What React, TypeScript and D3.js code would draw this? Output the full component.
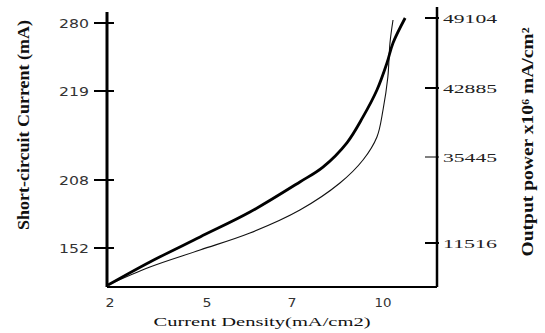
import React from 'react';
import * as d3 from 'd3';

// tick labels (the axes in the picture are not evenly spaced)
const xTicks = [2, 5, 7, 10];
const leftTicks = [152, 208, 219, 280];
const rightTicks = [11516, 35445, 42885, 49104];

// short-circuit current (left axis), thick line
const currentX = [2.0, 3.27, 4.79, 6.01, 7.26, 8.02, 8.81, 9.34, 9.8, 10.13, 10.33, 10.73];
const currentY = [121.5, 140.5, 161.1, 181.6, 206.4, 209.6, 212.6, 215.8, 219.9, 244.1, 262.1, 284.5];

// output power (right axis), thin line
const powerX = [2.0, 3.27, 4.79, 6.01, 7.26, 8.58, 9.34, 9.8, 10.0, 10.16, 10.23, 10.33];
const powerY = [-168, 4839, 9569, 14298, 20697, 28208, 34607, 37601, 40512, 43862, 46883, 48926];

const width = 545;
const height = 333;
const left = 107;
const right = 437;
const bottom = 287;

const App = () => {
    // piecewise scales, one segment between each pair of labelled ticks
    const x = d3.scaleLinear().domain(xTicks).range([108, 207, 292, 383]);
    const yLeft = d3.scaleLinear().domain(leftTicks).range([248, 180, 91, 23]);
    const yRight = d3.scaleLinear().domain(rightTicks).range([243, 157, 88, 18]);

    const currentLine = d3.line<number>()
        .x((d, i) => x(currentX[i]))
        .y(d => yLeft(d))
        .curve(d3.curveCatmullRom.alpha(0.5));

    const powerLine = d3.line<number>()
        .x((d, i) => x(powerX[i]))
        .y(d => yRight(d))
        .curve(d3.curveCatmullRom.alpha(0.5));

    const sans = 'DejaVu Sans, sans-serif';
    const serif = 'Liberation Serif, serif';

    return (
        <svg width={width} height={height} style={{ position: 'absolute', left: 0, top: 0, background: '#fff' }}>
            {/* curves */}
            <path d={powerLine(powerY) || ''} fill="none" stroke="#111" strokeWidth={1.1} />
            <path d={currentLine(currentY) || ''} fill="none" stroke="#000" strokeWidth={2.8} />

            {/* axes */}
            <line x1={left} x2={left} y1={12} y2={bottom} stroke="#000" strokeWidth={3} />
            <line x1={right} x2={right} y1={7} y2={bottom} stroke="#000" strokeWidth={2.5} />
            <line x1={left} x2={right} y1={bottom} y2={bottom} stroke="#000" strokeWidth={2} />

            {leftTicks.map(t => (
                <g key={t}>
                    <line x1={94} x2={114} y1={yLeft(t)} y2={yLeft(t)} stroke="#000" strokeWidth={2} />
                    <text x={89} y={yLeft(t)} dy="0.35em" textAnchor="end" fontFamily={sans} fontSize={13}
                        fill="#333" textLength={30} lengthAdjust="spacingAndGlyphs">{t}</text>
                </g>
            ))}

            {rightTicks.map(t => (
                <g key={t}>
                    <line x1={425} x2={439} y1={yRight(t)} y2={yRight(t)} stroke="#000"
                        strokeWidth={t === 35445 ? 1 : 2} />
                    <text x={443} y={yRight(t)} dy="0.35em" fontFamily={serif} fontSize={13}
                        fill="#222" textLength={54} lengthAdjust="spacingAndGlyphs">{t}</text>
                </g>
            ))}

            {xTicks.map(t => (
                <text key={t} x={x(t) + (t === 2 ? 2 : 0)} y={307} textAnchor="middle" fontFamily={sans} fontSize={13}
                    fill="#333" textLength={t === 10 ? 17 : 9} lengthAdjust="spacingAndGlyphs">{t}</text>
            ))}

            {/* titles */}
            <text x={262} y={326} textAnchor="middle" fontFamily={serif} fontSize={13} fill="#111"
                textLength={217} lengthAdjust="spacingAndGlyphs">Current Density(mA/cm2)</text>
            <text transform="translate(29,125) rotate(-90)" textAnchor="middle" fontFamily={serif} fontSize={17}
                fontWeight="bold" fill="#111" textLength={210} lengthAdjust="spacingAndGlyphs">
                Short-circuit Current (mA)
            </text>
            <text transform="translate(533,142) rotate(-90)" textAnchor="middle" fontFamily={serif} fontSize={16}
                fontWeight="bold" fill="#111" textLength={229} lengthAdjust="spacingAndGlyphs">
                Output power x10⁶ mA/cm²
            </text>
        </svg>
    );
};

export default App;
